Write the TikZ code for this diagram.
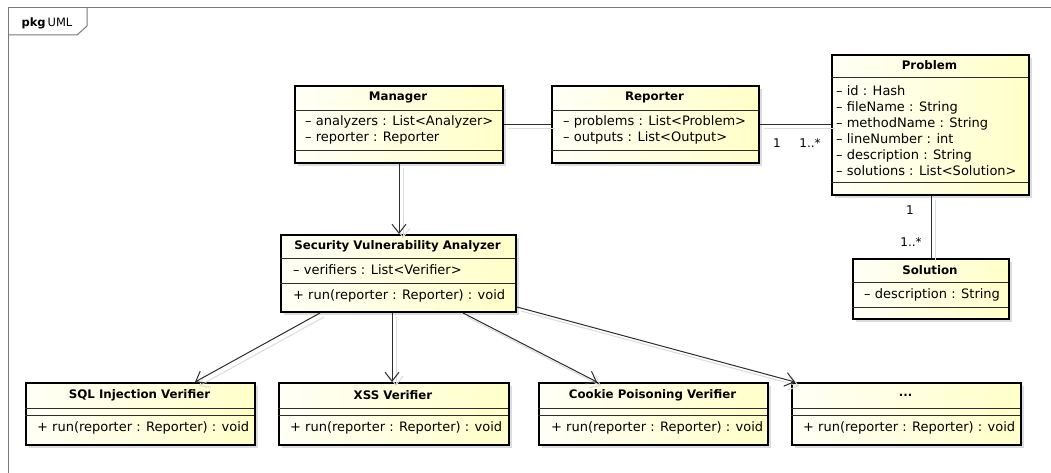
\documentclass[tikz,border=0pt]{standalone}
\usepackage{fontspec}
\setmainfont{DejaVu Sans}
\usetikzlibrary{arrows.meta,calc}
\definecolor{boxl}{RGB}{255,255,246}
\definecolor{boxr}{RGB}{255,255,200}
\definecolor{shad}{RGB}{220,220,220}
\definecolor{lnc}{RGB}{45,45,45}
\definecolor{framec}{RGB}{120,120,120}
\tikzset{
  classbox/.style={draw=black, line width=2pt, left color=boxl, right color=boxr, inner sep=0pt},
  sepline/.style={draw=lnc, line width=0.9pt},
  boxshadow/.style={fill=shad},
  titletxt/.style={font=\fontsize{11.8}{14}\selectfont\bfseries, inner sep=0pt},
  membertxt/.style={font=\fontsize{13}{16}\selectfont, inner sep=0pt, anchor=west, text height=9.5pt, text depth=2.5pt},
  assoc/.style={draw=lnc, line width=1pt},
  dep/.style={draw=lnc, line width=1pt, -{Straight Barb[length=9pt,width=14pt]}},
  lineshadow/.style={draw=shad, line width=1pt, transform canvas={xshift=4pt,yshift=-4pt}},
  shadowdep/.style={lineshadow, -{Straight Barb[length=9pt,width=14pt]}},
  multtxt/.style={font=\fontsize{12}{14}\selectfont, inner sep=0pt},
  frameline/.style={draw=framec, line width=1pt},
}
% name, x, y, w, h, sep1, sep2, title
\newcommand\umlclass[8]{%
  \fill[boxshadow] (#2+4,#3+4) rectangle ++(#4,#5);
  \node[classbox, minimum width=#4pt, minimum height=#5pt, anchor=north west] (#1) at (#2,#3) {};
  \draw[sepline] (#2,#3+#6) -- ++(#4,0);
  \draw[sepline] (#2,#3+#7) -- ++(#4,0);
  \node[titletxt] (#1-title) at ({#2+#4/2},{#3+#6/2}) {#8};
}
% name, x, first y, list
\newcommand\umlattrs[4]{%
  \foreach \t [count=\i from 0] in {#4} {\node[membertxt] (#1-a\i) at (#2,{#3+16*\i}) {\t};}
}
\newcommand\umlop[4]{\node[membertxt] (#1-op) at (#2,#3) {#4};}

\begin{document}
\begin{tikzpicture}[x=1pt,y=-1pt]
\useasboundingbox (0,0) rectangle (1051,473);
\fill[white] (0,0) rectangle (1051,473);

% package frame
\draw[frameline] (8,473) -- (8,8) -- (1051,8);
\draw[frameline] (8,35) -- (77,35) -- (87,26) -- (87,8);
\node[inner sep=0pt, font=\fontsize{11.5}{13}\selectfont] (pkg) at (47,23) {\textbf{pkg}\,UML};

% classes
\umlclass{mgr}{294}{85}{208}{77}{25}{65}{Manager}
\umlattrs{mgr}{305}{122}{– analyzers : List<Analyzer>, – reporter : Reporter}

\umlclass{rep}{551}{85}{207}{77}{25}{65}{Reporter}
\umlattrs{rep}{563}{122}{– problems : List<Problem>, – outputs : List<Output>}

\umlclass{prob}{831}{54}{197}{140}{23}{128}{Problem}
\umlattrs{prob}{836}{92}{– id : Hash, – fileName : String, – methodName : String, – lineNumber : int, – description : String, – solutions : List<Solution>}

\umlclass{sol}{852}{258}{156}{60}{24}{49}{Solution}
\umlattrs{sol}{864}{295}{– description : String}

\umlclass{ana}{280}{234}{235}{77}{24}{49}{Security Vulnerability Analyzer}
\umlattrs{ana}{293}{271}{– verifiers : List<Verifier>}
\umlop{ana}{293}{296}{+ run(reporter : Reporter) : void}

\umlclass{sql}{25}{382}{229}{62}{26}{33}{SQL Injection Verifier}
\umlop{sql}{37}{428}{+ run(reporter : Reporter) : void}

\umlclass{xss}{278}{382}{230}{62}{26}{33}{XSS Verifier}
\umlop{xss}{290}{428}{+ run(reporter : Reporter) : void}

\umlclass{cook}{538}{382}{229}{62}{26}{33}{Cookie Poisoning Verifier}
\umlop{cook}{551}{428}{+ run(reporter : Reporter) : void}

\umlclass{dots}{791}{382}{229}{62}{26}{33}{...}
\umlop{dots}{803}{428}{+ run(reporter : Reporter) : void}

% connector shadows
\draw[lineshadow] (mgr.east) -- (rep.west);
\draw[lineshadow] (rep.east) -- (rep.east -| prob.west);
\draw[lineshadow] (sol.north |- prob.south) -- (sol.north);
\draw[shadowdep] (mgr.south) -- (mgr.south |- ana.north);
\draw[shadowdep] ($(ana.south west)+(40,0)$) -- ($(sql.north west)+(170,0)$);
\draw[shadowdep] ($(ana.south west)+(112,0)$) -- ($(xss.north west)+(114,0)$);
\draw[shadowdep] ($(ana.south west)+(183,0)$) -- ($(cook.north west)+(59,0)$);
\draw[shadowdep] ($(ana.south east)+(0,-6)$) -- ($(dots.north west)+(4,0)$);

% connectors
\draw[assoc] (mgr.east) -- (rep.west);
\draw[assoc] (rep.east) -- (rep.east -| prob.west);
\node[multtxt] (m1) at (777,143) {1};
\node[multtxt] (m2) at (810,143) {1..*};
\draw[assoc] (sol.north |- prob.south) -- (sol.north);
\node[multtxt] (m3) at (910,210) {1};
\node[multtxt] (m4) at (911,242) {1..*};
\draw[dep] (mgr.south) -- (mgr.south |- ana.north);
\draw[dep] ($(ana.south west)+(40,0)$) -- ($(sql.north west)+(170,0)$);
\draw[dep] ($(ana.south west)+(112,0)$) -- ($(xss.north west)+(114,0)$);
\draw[dep] ($(ana.south west)+(183,0)$) -- ($(cook.north west)+(59,0)$);
\draw[dep] ($(ana.south east)+(0,-6)$) -- ($(dots.north west)+(4,0)$);
\end{tikzpicture}
\end{document}
